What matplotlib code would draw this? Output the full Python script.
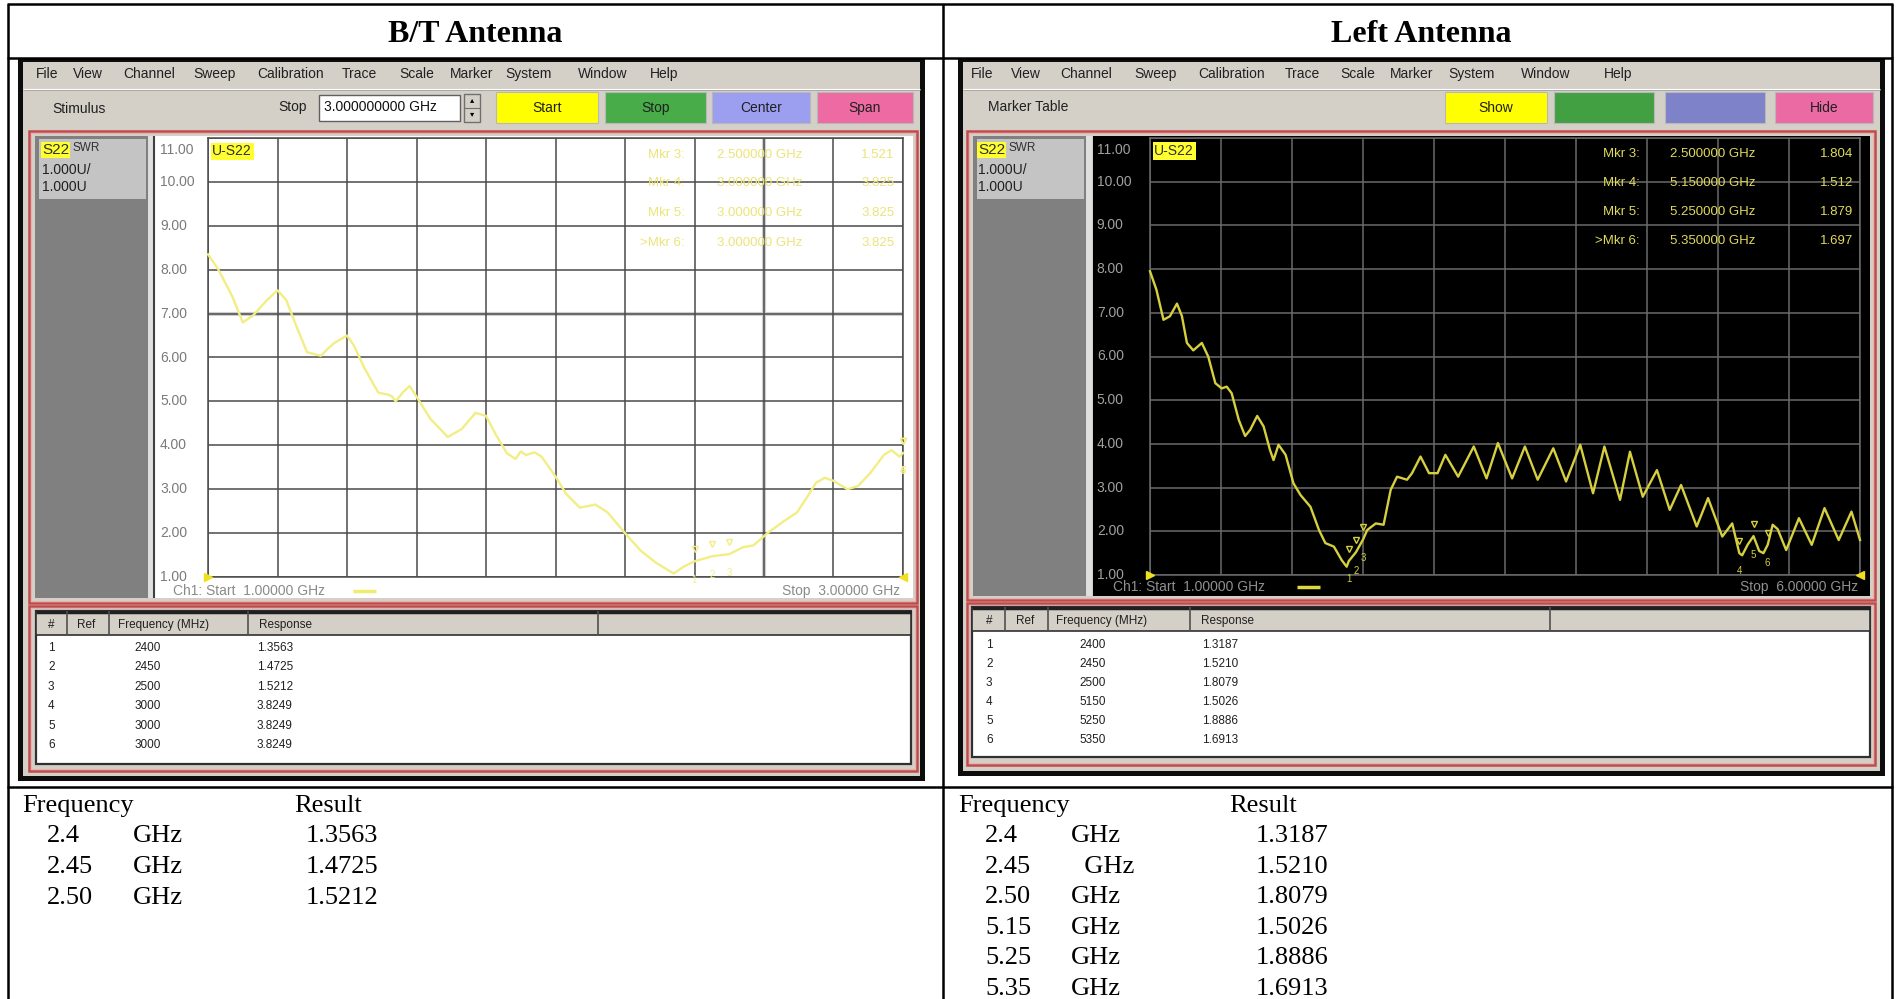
"""
Antenna SWR comparison sheet - B/T vs Left antenna network analyzer captures
"""

import matplotlib
matplotlib.use('Agg')
import matplotlib.pyplot as plt
from matplotlib.patches import Rectangle
import numpy as np

# ---------------- data read from the captures ----------------
bt_freq = [1.00, 1.03, 1.07, 1.10, 1.13, 1.17, 1.20, 1.225, 1.255, 1.285, 1.325, 1.345,
           1.365, 1.40, 1.42, 1.45, 1.49, 1.52, 1.53, 1.54, 1.56, 1.58, 1.60, 1.64,
           1.69, 1.73, 1.77, 1.80, 1.83, 1.86, 1.885, 1.90, 1.915, 1.94, 1.96, 2.00,
           2.03, 2.07, 2.115, 2.15, 2.20, 2.245, 2.29, 2.34, 2.37, 2.40, 2.45, 2.50,
           2.54, 2.57, 2.61, 2.655, 2.695, 2.72, 2.75, 2.775, 2.80, 2.84, 2.87, 2.905,
           2.945, 2.967, 2.99, 3.00]
bt_swr = [8.35, 8.00, 7.39, 6.80, 6.96, 7.31, 7.53, 7.31, 6.70, 6.12, 6.04, 6.20,
          6.34, 6.50, 6.27, 5.76, 5.20, 5.15, 5.11, 5.00, 5.20, 5.35, 5.11, 4.60,
          4.19, 4.37, 4.74, 4.67, 4.22, 3.82, 3.69, 3.86, 3.78, 3.84, 3.74, 3.29,
          2.90, 2.58, 2.65, 2.47, 2.00, 1.60, 1.32, 1.08, 1.24, 1.356, 1.4725, 1.521,
          1.68, 1.72, 2.00, 2.26, 2.47, 2.77, 3.15, 3.26, 3.19, 3.00, 3.07, 3.36,
          3.78, 3.89, 3.74, 3.825]

left_freq = [1.00, 1.045, 1.095, 1.14, 1.19, 1.225, 1.26, 1.305, 1.365, 1.41, 1.46, 1.505,
             1.54, 1.575, 1.625, 1.67, 1.705, 1.755, 1.80, 1.845, 1.87, 1.905, 1.955, 2.01,
             2.06, 2.13, 2.19, 2.235, 2.295, 2.35, 2.385, 2.40, 2.45, 2.50, 2.53, 2.59,
             2.645, 2.695, 2.74, 2.81, 2.845, 2.905, 2.965, 3.025, 3.08, 3.17, 3.28, 3.37,
             3.45, 3.55, 3.64, 3.73, 3.84, 3.93, 4.03, 4.12, 4.20, 4.31, 4.38, 4.47,
             4.57, 4.66, 4.74, 4.85, 4.93, 5.03, 5.10, 5.15, 5.17, 5.21, 5.25, 5.29,
             5.32, 5.35, 5.385, 5.42, 5.48, 5.57, 5.66, 5.75, 5.85, 5.94, 6.00]
left_swr = [7.95, 7.53, 6.84, 6.92, 7.21, 6.92, 6.31, 6.14, 6.31, 6.00, 5.39, 5.27,
            5.31, 5.16, 4.55, 4.18, 4.32, 4.64, 4.40, 3.86, 3.63, 3.98, 3.75, 3.10,
            2.83, 2.56, 2.03, 1.73, 1.65, 1.34, 1.19, 1.32, 1.52, 1.81, 2.03, 2.18,
            2.15, 2.95, 3.25, 3.18, 3.33, 3.71, 3.33, 3.33, 3.75, 3.25, 3.94, 3.21,
            4.02, 3.21, 3.94, 3.18, 3.90, 3.14, 3.98, 2.87, 3.94, 2.72, 3.82, 2.79,
            3.40, 2.49, 3.06, 2.11, 2.76, 1.88, 2.18, 1.50, 1.45, 1.70, 1.89, 1.55,
            1.50, 1.69, 2.15, 2.05, 1.57, 2.30, 1.69, 2.53, 1.80, 2.45, 1.80]

# marker table (6 markers each)
bt_mkr_freq = [2.40, 2.45, 2.50, 3.00, 3.00, 3.00]
bt_mkr_swr = [1.3563, 1.4725, 1.5212, 3.8249, 3.8249, 3.8249]
left_mkr_freq = [2.40, 2.45, 2.50, 5.15, 5.25, 5.35]
left_mkr_swr = [1.3187, 1.5210, 1.8079, 1.5026, 1.8886, 1.6913]

# on-screen readout of markers 3..6
bt_readout_swr = [1.521, 3.825, 3.825, 3.825]
left_readout_swr = [1.804, 1.512, 1.879, 1.697]

swr_ticks = [1, 2, 3, 4, 5, 6, 7, 8, 9, 10, 11]

# results written under the captures
bt_result_freq = ['2.4', '2.45', '2.50']
bt_result_unit = ['GHz', 'GHz', 'GHz']
bt_result_val = ['1.3563', '1.4725', '1.5212']
left_result_freq = ['2.4', '2.45', '2.50', '5.15', '5.25', '5.35']
left_result_unit = ['GHz', '  GHz', 'GHz', 'GHz', 'GHz', 'GHz']
left_result_val = ['1.3187', '1.5210', '1.8079', '1.5026', '1.8886', '1.6913']

menu_items = ['File', 'View', 'Channel', 'Sweep', 'Calibration', 'Trace', 'Scale',
              'Marker', 'System', 'Window', 'Help']

# ---------------- figure setup ----------------
W, H = 1896, 999
plt.rcParams['font.family'] = ['Liberation Sans', 'DejaVu Sans']
SERIF = ['Liberation Serif', 'DejaVu Serif']

fig = plt.figure(figsize=(W / 100, H / 100), dpi=100)
bg = fig.add_axes([0, 0, 1, 1])
bg.set_xlim(0, W)
bg.set_ylim(H, 0)
bg.axis('off')

WIN = '#d4d0c8'
FRAME = '#0c0c0c'
RED = '#c24a4a'


def rect(x0, y0, x1, y1, fc='none', ec='none', lw=0.0, z=1):
    bg.add_patch(Rectangle((x0, y0), x1 - x0, y1 - y0, facecolor=fc,
                           edgecolor=ec, linewidth=lw, zorder=z))


def hline(y, x0, x1, color, lw, z=3):
    bg.plot([x0, x1], [y, y], color=color, lw=lw, zorder=z, solid_capstyle='butt')


def vline(x, y0, y1, color, lw, z=3):
    bg.plot([x, x], [y0, y1], color=color, lw=lw, zorder=z, solid_capstyle='butt')


def px_axes(x0, y0, x1, y1):
    return fig.add_axes([x0 / W, 1 - y1 / H, (x1 - x0) / W, (y1 - y0) / H])


# window geometry (pixel positions)
bt_win = dict(
    frame=(18, 59, 925, 781),
    menu_x=[36, 73, 123, 193, 257, 342, 399, 450, 505, 578, 650],
    buttons=[('Start', '#ffff00', 496, 598), ('Stop', '#48ac48', 605, 706),
             ('Center', '#9c9ef0', 712, 810), ('Span', '#ee6aa2', 817, 913)],
    chart_pane=(29, 131, 917, 603),
    panel=(35, 136, 148, 598),
    plot_area=(155, 136, 913, 598),
    ax=(208, 138, 903, 577),
    label_x=-0.069,
    footer_y=591, footer_x=(173, 900), dash_x=(353, 376),
    table_pane=(29, 606, 917, 771),
    table=(36, 611, 911, 764),
    cols=[67, 109, 248, 598],
    head_x=[48, 77, 118, 259],
    cell_x=(48, 148, 257),
    row_y0=648, row_dy=19.4,
    readout_y=[0.961, 0.897, 0.829, 0.761],
    readout_x=(0.686, 0.732, 0.988),
    s22_x=42,
    dark=False,
)

left_win = dict(
    frame=(958, 59, 1885, 776),
    menu_x=[971, 1011, 1060, 1134, 1198, 1285, 1340, 1390, 1448, 1521, 1604],
    buttons=[('Show', '#ffff00', 1445, 1547), ('', '#42a042', 1554, 1654),
             ('', '#7e82c8', 1665, 1765), ('Hide', '#ec6aa4', 1775, 1873)],
    chart_pane=(967, 131, 1875, 600),
    panel=(973, 136, 1086, 596),
    plot_area=(1093, 136, 1870, 596),
    ax=(1150, 138, 1860, 575),
    label_x=-0.075,
    footer_y=587, footer_x=(1113, 1858), dash_x=(1297, 1320),
    table_pane=(967, 603, 1875, 765),
    table=(972, 607, 1870, 757),
    cols=[1005, 1048, 1190, 1550],
    head_x=[986, 1016, 1056, 1201],
    cell_x=(986, 1093, 1202),
    row_y0=645, row_dy=19.0,
    readout_y=[0.963, 0.897, 0.831, 0.764],
    readout_x=(0.690, 0.732, 0.990),
    s22_x=978,
    dark=True,
)


def draw_window(g, freq, swr, mkr_freq, mkr_swr, readout_swr):
    x0, y0, x1, y1 = g['frame']
    dark = g['dark']
    rect(x0, y0, x1, y1, fc=FRAME, z=1)
    rect(x0 + 5, y0 + 3, x1 - 5, y1 - 5, fc=WIN, z=1)

    # menu bar
    for word, mx in zip(menu_items, g['menu_x']):
        bg.text(mx, 74, word, fontsize=10, color='#202020', va='center', zorder=4)
    hline(89, x0 + 5, x1 - 5, '#ffffff', 0.8)
    hline(90, x0 + 5, x1 - 5, '#a0a0a0', 0.6)

    # toolbar
    if not dark:
        bg.text(52, 109, 'Stimulus', fontsize=10, color='#202020', va='center', zorder=4)
        bg.text(278, 107, 'Stop', fontsize=10, color='#202020', va='center', zorder=4)
        rect(319, 95, 460, 121, fc='white', ec='#606060', lw=1.0, z=3)
        bg.text(324, 107, '%.9f GHz' % max(freq), fontsize=10, color='#101010',
                va='center', zorder=4)
        rect(464, 94, 480, 122, fc=WIN, ec='#707070', lw=1.0, z=3)
        hline(108, 464, 480, '#707070', 0.8, z=4)
        bg.text(472, 101, '▴', fontsize=6, ha='center', va='center', zorder=5)
        bg.text(472, 115, '▾', fontsize=6, ha='center', va='center', zorder=5)
    else:
        bg.text(988, 107, 'Marker Table', fontsize=10, color='#202020',
                va='center', zorder=4)
    for label, color, bx0, bx1 in g['buttons']:
        rect(bx0, 92, bx1, 123, fc=color, ec='#b8b8b8', lw=0.8, z=3)
        bg.text((bx0 + bx1) / 2, 108, label, fontsize=10, color='#202020',
                ha='center', va='center', zorder=4)

    # chart pane
    cx0, cy0, cx1, cy1 = g['chart_pane']
    rect(cx0, cy0, cx1, cy1, fc=WIN, ec=RED, lw=1.8, z=2)
    rect(cx0 + 2, cy0 + 2, cx1 - 2, cy1 - 2, fc='none', ec='#e8b0b0', lw=0.8, z=2)
    px0, py0, px1, py1 = g['panel']
    rect(px0, py0, px1, py1, fc='#808080', z=3)
    rect(px0 + 4, py0 + 3, px1 - 2, 199, fc='#c4c4c4', z=3)
    vline(px1 + 3, py0, py1, '#e0e0e0', 4.0)
    ax0, ay0, ax1, ay1 = g['plot_area']
    plot_bg = 'black' if dark else 'white'
    rect(ax0, ay0, ax1, ay1, fc=plot_bg, z=3)
    if not dark:
        vline(ax0 - 1, ay0, ay1, '#404040', 1.5)

    sx = g['s22_x']
    bg.text(sx, 150, 'S22', fontsize=11, color='#303030', va='center', zorder=5,
            bbox=dict(boxstyle='square,pad=0.05', fc='#ffff30', ec='none'))
    bg.text(sx + 31, 148, 'SWR', fontsize=8.5, color='#303030', va='center', zorder=5)
    bg.text(sx, 170, '1.000U/', fontsize=10, color='#202020', va='center', zorder=5)
    bg.text(sx, 187, '1.000U', fontsize=10, color='#202020', va='center', zorder=5)

    # chart footer
    fmin, fmax = min(freq), max(freq)
    foot_c = '#8a8a8a' if not dark else '#909090'
    bg.text(g['footer_x'][0], g['footer_y'], 'Ch1: Start  %.5f GHz' % fmin,
            fontsize=10, color=foot_c, va='center', zorder=5)
    bg.text(g['footer_x'][1], g['footer_y'], 'Stop  %.5f GHz' % fmax,
            fontsize=10, color=foot_c, va='center', ha='right', zorder=5)
    hline(g['footer_y'], g['dash_x'][0], g['dash_x'][1],
          '#f0ec70' if not dark else '#e0d840', 2.5, z=5)

    # the trace axes
    grid_c = '#4a4a4a' if not dark else '#6a6a6a'
    trace_c = '#f2ee84' if not dark else '#d6cf3e'
    text_c = '#ece478' if not dark else '#e0da5a'
    ax = px_axes(*g['ax'])
    ax.set_facecolor(plot_bg)
    ax.set_xlim(fmin, fmax)
    ax.set_ylim(swr_ticks[0], swr_ticks[-1])
    ax.set_xticks(np.linspace(fmin, fmax, 11))
    ax.set_yticks(swr_ticks)
    ax.tick_params(length=0, labelbottom=False, labelleft=False)
    ax.grid(True, color=grid_c, lw=1.1)
    for s in ax.spines.values():
        s.set_color(grid_c)
        s.set_linewidth(1.1)
    if not dark:
        ax.axhline(7, color='#cfcfcf', lw=3.0, zorder=1.5)
        ax.axvline(fmin + 0.8 * (fmax - fmin), color='#cfcfcf', lw=3.0, zorder=1.5)

    ax.plot(freq, swr, color=trace_c, lw=1.7, zorder=4, clip_on=False)

    # marker symbols
    for i, (mf, ms) in enumerate(zip(mkr_freq, mkr_swr)):
        ax.plot([mf], [ms + 0.28], marker='v', ms=4.5, mfc='none', mec=trace_c,
                mew=1.0, zorder=5, clip_on=False)
        ax.text(mf, ms - 0.42, str(i + 1), fontsize=7, color=trace_c, ha='center',
                va='center', zorder=5, clip_on=False)
    ax.plot([fmin], [1], marker='>', ms=6, color='#f0e020', zorder=6, clip_on=False)
    ax.plot([fmax], [1], marker='<', ms=6, color='#f0e020', zorder=6, clip_on=False)

    # y labels (top one sits just under the top grid line)
    lab_c = '#7a7a7a' if not dark else '#a0a0a0'
    for v in swr_ticks:
        ly = v - 0.28 if v == swr_ticks[-1] else v
        ax.text(g['label_x'], ly, '%.2f' % v, transform=ax.get_yaxis_transform(),
                fontsize=10, color=lab_c, ha='left', va='center')

    ax.text(0.006, 0.970, 'U-S22', transform=ax.transAxes, fontsize=10,
            color='#303030', va='center', zorder=7,
            bbox=dict(boxstyle='square,pad=0.12', fc='#ffff30', ec='none'))

    # marker readout (markers 3..6)
    rx0, rx1, rx2 = g['readout_x']
    for k, (mf, rv) in enumerate(zip(mkr_freq[2:], readout_swr)):
        ry = g['readout_y'][k]
        tag = ('>' if k == 3 else '') + 'Mkr %d:' % (k + 3)
        ax.text(rx0, ry, tag, transform=ax.transAxes, fontsize=9.5, color=text_c,
                ha='right', va='center', zorder=7)
        ax.text(rx1, ry, '%.6f GHz' % mf, transform=ax.transAxes, fontsize=9.5,
                color=text_c, ha='left', va='center', zorder=7)
        ax.text(rx2, ry, '%.3f' % rv, transform=ax.transAxes, fontsize=9.5,
                color=text_c, ha='right', va='center', zorder=7)

    # marker table pane
    tx0, ty0, tx1, ty1 = g['table_pane']
    rect(tx0, ty0, tx1, ty1, fc=WIN, ec=RED, lw=1.8, z=2)
    rect(tx0 + 2, ty0 + 2, tx1 - 2, ty1 - 2, fc='none', ec='#e8b0b0', lw=0.8, z=2)
    bx0, by0, bx1, by1 = g['table']
    rect(bx0, by0, bx1, by1, fc='white', ec='#303030', lw=1.6, z=3)
    rect(bx0, by0, bx1, by0 + 24, fc=WIN, ec='#303030', lw=1.2, z=3)
    hline(by0 + 1, bx0, bx1, '#202020', 2.5, z=4)
    for cx in g['cols']:
        vline(cx, by0, by0 + 24, '#505050', 1.2, z=4)
    hy = by0 + 14
    for htxt, hx in zip(['#', 'Ref', 'Frequency (MHz)', 'Response'], g['head_x']):
        bg.text(hx, hy, htxt, fontsize=8.5, color='#202020', va='center', zorder=5)
    nx, fx, vx = g['cell_x']
    for i, (mf, ms) in enumerate(zip(mkr_freq, mkr_swr)):
        ry = g['row_y0'] + g['row_dy'] * i
        bg.text(nx, ry, str(i + 1), fontsize=8.5, color='#202020', va='center', zorder=5)
        bg.text(fx, ry, '%d' % round(mf * 1000), fontsize=8.5, color='#202020',
                ha='center', va='center', zorder=5)
        bg.text(vx, ry, '%.4f' % ms, fontsize=8.5, color='#202020', va='center', zorder=5)


draw_window(bt_win, bt_freq, bt_swr, bt_mkr_freq, bt_mkr_swr, bt_readout_swr)
draw_window(left_win, left_freq, left_swr, left_mkr_freq, left_mkr_swr, left_readout_swr)

# ---------------- document table ----------------
hline(4, 7, 1893, 'black', 1.8, z=6)
hline(58, 7, 1893, 'black', 1.8, z=6)
hline(787, 7, 1893, 'black', 1.8, z=6)
vline(8, 4, H, 'black', 1.8, z=6)
vline(943, 4, H, 'black', 1.8, z=6)
vline(1892, 4, H, 'black', 1.8, z=6)

bg.text(475, 35, 'B/T Antenna', fontsize=23, fontweight='bold', family=SERIF,
        ha='center', va='center')
bg.text(1421, 35, 'Left Antenna', fontsize=23, fontweight='bold', family=SERIF,
        ha='center', va='center')

# results under each capture
bg.text(22, 806, 'Frequency', fontsize=19, family=SERIF, va='center')
bg.text(294, 806, 'Result', fontsize=19, family=SERIF, va='center')
for i, (f, u, v) in enumerate(zip(bt_result_freq, bt_result_unit, bt_result_val)):
    y = 836 + 31 * i
    bg.text(47, y, f, fontsize=19, family=SERIF, va='center')
    bg.text(133, y, u, fontsize=19, family=SERIF, va='center')
    bg.text(306, y, v, fontsize=19, family=SERIF, va='center')

bg.text(958, 806, 'Frequency', fontsize=19, family=SERIF, va='center')
bg.text(1229, 806, 'Result', fontsize=19, family=SERIF, va='center')
for i, (f, u, v) in enumerate(zip(left_result_freq, left_result_unit, left_result_val)):
    y = 836 + 30.6 * i
    bg.text(985, y, f, fontsize=19, family=SERIF, va='center')
    bg.text(1071, y, u, fontsize=19, family=SERIF, va='center')
    bg.text(1256, y, v, fontsize=19, family=SERIF, va='center')

fig.savefig('out.png', dpi=100)
